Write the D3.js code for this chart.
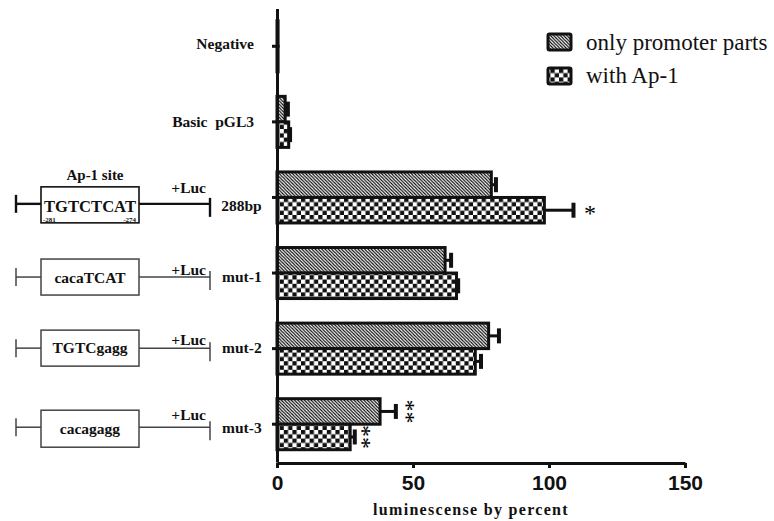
<!DOCTYPE html>
<html><head><meta charset="utf-8">
<script src="https://cdn.jsdelivr.net/npm/d3@7"></script>
<style>body{margin:0;background:#fff}</style>
</head><body><svg id="c" width="774" height="521"></svg>
<script>
// ---- data ----
const categories = ["Negative", "Basic  pGL3", "288bp", "mut-1", "mut-2", "mut-3"];
const seriesNames = ["only promoter parts", "with Ap-1"];
const promoterValues = [0.4, 3, 78.8, 61.8, 77.8, 37.9];
const promoterErrors = [0, 1, 1.7, 2.2, 3.8, 5.8];
const ap1Values = [0.4, 4.3, 98.3, 66, 72.9, 26.9];
const ap1Errors = [0, 0.5, 10.7, 0.6, 2.1, 1.7];
const xTicks = [0, 50, 100, 150];
const xTitle = "luminescense by percent";
const siteRows = ["288bp", "mut-1", "mut-2", "mut-3"];
const siteSequences = ["TGTCTCAT", "cacaTCAT", "TGTCgagg", "cacagagg"];
const siteLabel = "Ap-1 site";
const sitePositions = ["-281", "-274"];
const reporterLabel = "+Luc";
const sigCategories = ["288bp", "mut-3", "mut-3"];
const sigSeries = [1, 0, 1];
const sigMarks = ["*", "**", "**"];

// ---- drawing ----
const svg = d3.select("#c");
const serif = "'Liberation Serif','Times New Roman',serif";
const sans = "'Liberation Sans',Arial,sans-serif";
const ink = "#111";
const values = [promoterValues, ap1Values];
const errors = [promoterErrors, ap1Errors];

const defs = svg.append("defs");
const hs = 3.3;
const hp = defs.append("pattern").attr("id", "hatch").attr("patternUnits", "userSpaceOnUse")
  .attr("width", hs).attr("height", hs);
hp.append("rect").attr("width", hs).attr("height", hs).attr("fill", "#fff");
hp.append("path").attr("d", `M-1,-1L${hs+1},${hs+1}M-1,${hs-1}L1,${hs+1}M${hs-1},-1L${hs+1},1`)
  .attr("stroke", "#000").attr("stroke-width", 1.1);
const s = 4.3;
const cp = defs.append("pattern").attr("id", "checker").attr("patternUnits", "userSpaceOnUse")
  .attr("width", 2 * s).attr("height", 2 * s);
cp.append("rect").attr("width", 2 * s).attr("height", 2 * s).attr("fill", "#fff");
cp.append("rect").attr("width", s).attr("height", s).attr("fill", ink);
cp.append("rect").attr("x", s).attr("y", s).attr("width", s).attr("height", s).attr("fill", ink);
const fills = ["url(#hatch)", "url(#checker)"];

const x = d3.scaleLinear().domain([0, 150]).range([277, 685]);
const y = d3.scaleBand().domain(categories).range([8.5, 462]).paddingInner(0.325).paddingOuter(0.1625);
const sub = d3.scaleBand().domain([0, 1]).range([0, y.bandwidth()]);

// error bars
const bars = [];
categories.forEach((c, ci) => [0, 1].forEach(si => bars.push({c, ci, si, v: values[si][ci], e: errors[si][ci]})));
const eg = svg.append("g");
bars.filter(d => d.e > 0).forEach(d => {
  const cy = y(d.c) + sub(d.si) + sub.bandwidth() / 2;
  eg.append("line").attr("x1", x(d.v)).attr("x2", x(d.v + d.e)).attr("y1", cy).attr("y2", cy)
    .attr("stroke", ink).attr("stroke-width", 3);
  eg.append("line").attr("x1", x(d.v + d.e)).attr("x2", x(d.v + d.e)).attr("y1", cy - 7.5).attr("y2", cy + 7.5)
    .attr("stroke", ink).attr("stroke-width", 4);
});
// bars
svg.append("g").selectAll("rect").data(bars).join("rect")
  .attr("x", x(0)).attr("y", d => y(d.c) + sub(d.si))
  .attr("width", d => x(d.v) - x(0)).attr("height", sub.bandwidth())
  .attr("fill", d => fills[d.si]).attr("stroke", ink).attr("stroke-width", 3);

// axes
const gx = svg.append("g").attr("transform", "translate(0,463)")
  .call(d3.axisBottom(x).tickValues(xTicks).tickSize(5).tickSizeOuter(0).tickPadding(7));
gx.select(".domain").attr("stroke", ink).attr("stroke-width", 3);
gx.selectAll(".tick line").attr("stroke", ink).attr("stroke-width", 3);
gx.selectAll(".tick text").attr("font-family", sans).attr("font-weight", "bold")
  .attr("font-size", 21).attr("fill", ink);

const gy = svg.append("g").attr("transform", "translate(277,0)")
  .call(d3.axisLeft(y).tickSize(5).tickSizeOuter(0).tickFormat(""));
gy.select(".domain").attr("stroke", ink).attr("stroke-width", 3);
gy.selectAll(".tick line").attr("stroke", ink).attr("stroke-width", 3);

svg.append("text").attr("x", 471).attr("y", 515).attr("text-anchor", "middle")
  .attr("font-family", serif).attr("font-weight", "bold").attr("font-size", 16)
  .attr("letter-spacing", 1.3).attr("fill", ink).text(xTitle);

// category labels
const labelDy = [3, 5, 13.5, 8.5, 4.5, 8.7];
categories.forEach((c, i) => {
  svg.append("text").attr("x", i < 2 ? 254 : 261.7).attr("y", y(c) + y.bandwidth() / 2 + labelDy[i])
    .attr("text-anchor", "end").attr("font-family", serif).attr("font-weight", "bold")
    .attr("font-size", 15.5).attr("fill", ink)
    .style("white-space", "pre").text(c);
});

// significance marks: multi-asterisks are stacked vertically (text rotated 90deg)
sigCategories.forEach((c, k) => {
  const si = sigSeries[k], ci = categories.indexOf(c);
  const cy = y(c) + sub(si) + sub.bandwidth() / 2;
  const xe = x(values[si][ci] + errors[si][ci]);
  const m = sigMarks[k];
  const off = m.length === 1 ? 16.5 : (si === 0 ? 14.5 : 11.5);
  const g = svg.append("g").attr("transform", `translate(${xe + off},${cy})` + (m.length > 1 ? " rotate(90)" : ""));
  g.append("text").attr("x", 0).attr("y", 11).attr("text-anchor", "middle")
    .attr("font-family", serif).attr("font-size", 24).attr("fill", "#000").text(m);
});

// construct diagrams
const lay = [
  {lo: 6.4, bt: -17, bb: 19, td: 7.8, ld: -11, fs: 16.6, col: "#111", w: 2.4},
  {lo: 4, bt: -18, bb: 18, td: 6, ld: -2, fs: 15.5, col: "#444", w: 1.5},
  {lo: -0.5, bt: -18, bb: 18, td: 5, ld: -3, fs: 15.5, col: "#444", w: 1.5},
  {lo: 3, bt: -17, bb: 20, td: 7, ld: -7, fs: 15.5, col: "#444", w: 1.5}
];
const bl = 41, br = 139;
siteRows.forEach((c, i) => {
  const L = lay[i];
  const ly = y(c) + y.bandwidth() / 2 + L.lo;
  const g = svg.append("g").attr("stroke", L.col).attr("stroke-width", L.w).attr("fill", "none");
  g.append("line").attr("x1", 16).attr("x2", bl).attr("y1", ly).attr("y2", ly);
  g.append("line").attr("x1", br).attr("x2", 210).attr("y1", ly).attr("y2", ly);
  g.append("line").attr("x1", 16).attr("x2", 16).attr("y1", ly - 9).attr("y2", ly + 9);
  g.append("line").attr("x1", 210).attr("x2", 210).attr("y1", ly - 6).attr("y2", ly + 13);
  g.append("rect").attr("x", bl).attr("y", ly + L.bt).attr("width", br - bl).attr("height", L.bb - L.bt)
    .attr("stroke-width", Math.min(L.w, 1.6));
  svg.append("text").attr("x", (bl + br) / 2).attr("y", ly + L.td).attr("text-anchor", "middle")
    .attr("font-family", serif).attr("font-weight", "bold").attr("font-size", L.fs).attr("fill", ink)
    .text(siteSequences[i]);
  svg.append("text").attr("x", 206).attr("y", ly + L.ld).attr("text-anchor", "end")
    .attr("font-family", serif).attr("font-weight", "bold").attr("font-size", 15.5).attr("fill", ink)
    .text(reporterLabel);
  if (i === 0) {
    svg.append("text").attr("x", 95).attr("y", ly + L.bt - 7).attr("text-anchor", "middle")
      .attr("font-family", serif).attr("font-weight", "bold").attr("font-size", 15).attr("fill", ink)
      .text(siteLabel);
    svg.append("text").attr("x", bl + 2).attr("y", ly + 18).attr("font-family", serif)
      .attr("font-weight", "bold").attr("font-size", 7).attr("fill", ink).text(sitePositions[0]);
    svg.append("text").attr("x", br - 3).attr("y", ly + 18).attr("text-anchor", "end").attr("font-family", serif)
      .attr("font-weight", "bold").attr("font-size", 7).attr("fill", ink).text(sitePositions[1]);
  }
});

// legend
seriesNames.forEach((n, i) => {
  const ly = [34, 68][i];
  svg.append("rect").attr("x", 548).attr("y", ly).attr("width", 23).attr("height", 16).attr("rx", 1.5)
    .attr("fill", fills[i]).attr("stroke", ink).attr("stroke-width", 3);
  svg.append("text").attr("x", 586).attr("y", ly + [15.5, 15][i]).attr("font-family", serif)
    .attr("font-size", 23).attr("fill", ink).text(n);
});
</script></body></html>
